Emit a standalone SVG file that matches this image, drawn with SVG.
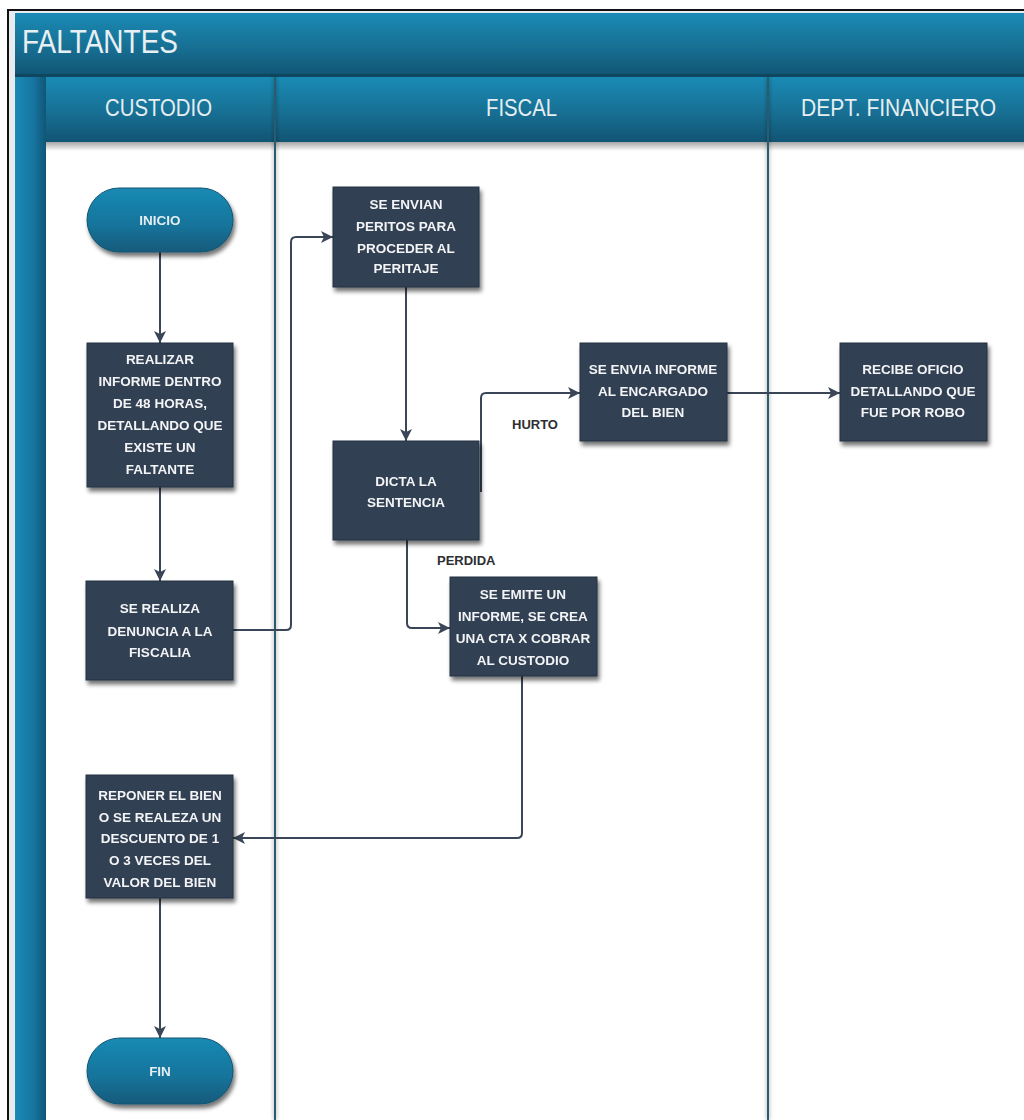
<svg xmlns="http://www.w3.org/2000/svg" width="1024" height="1120" viewBox="0 0 1024 1120">
  <defs>
    <linearGradient id="gBarV" x1="0" y1="0" x2="0" y2="1">
      <stop offset="0" stop-color="#1a8bb5"/>
      <stop offset="0.55" stop-color="#176f93"/>
      <stop offset="1" stop-color="#115473"/>
    </linearGradient>
    <linearGradient id="gBarH" x1="0" y1="0" x2="1" y2="0">
      <stop offset="0" stop-color="#1a8bb5"/>
      <stop offset="0.6" stop-color="#1675a0"/>
      <stop offset="1" stop-color="#115576"/>
    </linearGradient>
    <linearGradient id="gPill" x1="0" y1="0" x2="0" y2="1">
      <stop offset="0" stop-color="#1a8ab4"/>
      <stop offset="0.6" stop-color="#16739a"/>
      <stop offset="1" stop-color="#125a7b"/>
    </linearGradient>
    <filter id="shadow" x="-20%" y="-20%" width="150%" height="150%">
      <feGaussianBlur in="SourceAlpha" stdDeviation="2.2"/>
      <feOffset dx="2" dy="4" result="b"/>
      <feComponentTransfer><feFuncA type="linear" slope="0.55"/></feComponentTransfer>
      <feMerge><feMergeNode/><feMergeNode in="SourceGraphic"/></feMerge>
    </filter>
    <filter id="lineShadow" x="-400%" y="-5%" width="900%" height="110%">
      <feGaussianBlur in="SourceAlpha" stdDeviation="2"/>
      <feComponentTransfer><feFuncA type="linear" slope="0.45"/></feComponentTransfer>
      <feMerge><feMergeNode/><feMergeNode in="SourceGraphic"/></feMerge>
    </filter>
    <linearGradient id="gHeadShade" x1="0" y1="0" x2="0" y2="1">
      <stop offset="0" stop-color="#000" stop-opacity="0.35"/>
      <stop offset="1" stop-color="#000" stop-opacity="0"/>
    </linearGradient>
    <marker id="arrow" markerUnits="userSpaceOnUse" markerWidth="13" markerHeight="12" refX="12" refY="6" orient="auto">
      <path d="M0,0 L12,6 L0,12 L3,6 z" fill="#3a4657"/>
    </marker>
    <style>
      .box { fill: #323f52; stroke: #273140; stroke-width: 1; }
      .pill { fill: url(#gPill); stroke: #125472; stroke-width: 1; }
      .ntext { font-family: "Liberation Sans", Arial, sans-serif; font-weight: bold; font-size: 13.5px; fill: #f2f4f6; text-anchor: middle; }
      .ptext { font-family: "Liberation Sans", Arial, sans-serif; font-weight: bold; font-size: 13.5px; fill: #e3edf2; text-anchor: middle; }
      .lbl { font-family: "Liberation Sans", Arial, sans-serif; font-weight: bold; font-size: 13px; fill: #2d2f33; }
      .htext { font-family: "Liberation Sans", Arial, sans-serif; font-size: 24px; fill: #e6eef2; }
      .ttext { font-family: "Liberation Sans", Arial, sans-serif; font-size: 33px; fill: #e8f0f4; }
      .conn { fill: none; stroke: #3a4657; stroke-width: 2; marker-end: url(#arrow); }
      .lane { stroke: #2a5b70; stroke-width: 2; }
    </style>
  </defs>

  <!-- page background and outer frame -->
  <rect x="0" y="0" width="1024" height="1120" fill="#ffffff"/>
  <rect x="9" y="11" width="1015" height="1109" fill="#e9ecee"/>
  <path d="M8,1120 V10 H1024" fill="none" stroke="#111" stroke-width="2"/>

  <!-- pool title bar -->
  <g id="pool-title">
    <rect x="15" y="13" width="1009" height="63" fill="url(#gBarV)"/>
    <rect x="15" y="74" width="1009" height="3" fill="#0f4760"/>
    <text class="ttext" x="22" y="53" textLength="156" lengthAdjust="spacingAndGlyphs">FALTANTES</text>
  </g>

  <!-- left pool strip -->
  <rect x="15" y="77" width="31" height="1043" fill="url(#gBarH)"/>

  <!-- lane bodies -->
  <rect x="46" y="142" width="978" height="978" fill="#ffffff"/>
  <rect x="46" y="142" width="978" height="9" fill="url(#gHeadShade)"/>

  <!-- lane headers -->
  <g id="lane-custodio">
    <rect x="46" y="77" width="229" height="65" fill="url(#gBarV)"/>
    <text class="htext" x="105" y="116" textLength="107" lengthAdjust="spacingAndGlyphs">CUSTODIO</text>
  </g>
  <g id="lane-fiscal">
    <rect x="276" y="77" width="492" height="65" fill="url(#gBarV)"/>
    <text class="htext" x="486" y="116" textLength="71" lengthAdjust="spacingAndGlyphs">FISCAL</text>
  </g>
  <g id="lane-financiero">
    <rect x="769" y="77" width="255" height="65" fill="url(#gBarV)"/>
    <text class="htext" x="801" y="116" textLength="195" lengthAdjust="spacingAndGlyphs">DEPT. FINANCIERO</text>
  </g>

  <!-- lane dividers -->
  <g id="lane-dividers" filter="url(#lineShadow)">
    <line class="lane" x1="275" y1="77" x2="275" y2="1120"/>
    <line class="lane" x1="768" y1="77" x2="768" y2="1120"/>
  </g>

  <!-- connectors -->
  <g id="connectors">
    <path class="conn" d="M160,252 V343"/>
    <path class="conn" d="M160,487 V581"/>
    <path class="conn" d="M233,630 H286 Q291,630 291,625 V242 Q291,237 296,237 H333"/>
    <path class="conn" d="M406,287 V441"/>
    <path class="conn" d="M481,492 V398 Q481,393 486,393 H580"/>
    <path class="conn" d="M727,393 H840"/>
    <path class="conn" d="M407,540 V623 Q407,628 412,628 H450"/>
    <path class="conn" d="M522,676 V833 Q522,838 517,838 H233"/>
    <path class="conn" d="M160,898 V1038"/>
    <text class="lbl" x="512" y="429">HURTO</text>
    <text class="lbl" x="437" y="565">PERDIDA</text>
  </g>

  <!-- nodes -->
  <g id="inicio" filter="url(#shadow)">
    <rect class="pill" x="87" y="188" width="146" height="64" rx="32"/>
    <text class="ptext" x="160" y="225">INICIO</text>
  </g>

  <g id="realizar-informe" filter="url(#shadow)">
    <rect class="box" x="87" y="343" width="146" height="144"/>
    <text class="ntext" x="160" y="364">REALIZAR</text>
    <text class="ntext" x="160" y="386">INFORME DENTRO</text>
    <text class="ntext" x="160" y="408">DE 48 HORAS,</text>
    <text class="ntext" x="160" y="430">DETALLANDO QUE</text>
    <text class="ntext" x="160" y="452">EXISTE UN</text>
    <text class="ntext" x="160" y="474">FALTANTE</text>
  </g>

  <g id="denuncia" filter="url(#shadow)">
    <rect class="box" x="86" y="581" width="147" height="99"/>
    <text class="ntext" x="160" y="613">SE REALIZA</text>
    <text class="ntext" x="160" y="636">DENUNCIA A LA</text>
    <text class="ntext" x="160" y="657">FISCALIA</text>
  </g>

  <g id="reponer" filter="url(#shadow)">
    <rect class="box" x="86" y="775" width="147" height="123"/>
    <text class="ntext" x="160" y="800">REPONER EL BIEN</text>
    <text class="ntext" x="160" y="822">O SE REALEZA UN</text>
    <text class="ntext" x="160" y="843">DESCUENTO DE 1</text>
    <text class="ntext" x="160" y="865">O 3 VECES DEL</text>
    <text class="ntext" x="160" y="887">VALOR DEL BIEN</text>
  </g>

  <g id="fin" filter="url(#shadow)">
    <rect class="pill" x="87" y="1038" width="146" height="66" rx="33"/>
    <text class="ptext" x="160" y="1076">FIN</text>
  </g>

  <g id="peritos" filter="url(#shadow)">
    <rect class="box" x="333" y="187" width="146" height="100"/>
    <text class="ntext" x="406" y="209">SE ENVIAN</text>
    <text class="ntext" x="406" y="231">PERITOS PARA</text>
    <text class="ntext" x="406" y="253">PROCEDER AL</text>
    <text class="ntext" x="406" y="273">PERITAJE</text>
  </g>

  <g id="sentencia" filter="url(#shadow)">
    <rect class="box" x="333" y="441" width="146" height="99"/>
    <text class="ntext" x="406" y="486">DICTA LA</text>
    <text class="ntext" x="406" y="507">SENTENCIA</text>
  </g>

  <g id="informe-encargado" filter="url(#shadow)">
    <rect class="box" x="580" y="343" width="147" height="98"/>
    <text class="ntext" x="653" y="374">SE ENVIA INFORME</text>
    <text class="ntext" x="653" y="396">AL ENCARGADO</text>
    <text class="ntext" x="653" y="417">DEL BIEN</text>
  </g>

  <g id="cta-cobrar" filter="url(#shadow)">
    <rect class="box" x="450" y="577" width="147" height="99"/>
    <text class="ntext" x="523" y="599">SE EMITE UN</text>
    <text class="ntext" x="523" y="621">INFORME, SE CREA</text>
    <text class="ntext" x="523" y="643">UNA CTA X COBRAR</text>
    <text class="ntext" x="523" y="665">AL CUSTODIO</text>
  </g>

  <g id="recibe-oficio" filter="url(#shadow)">
    <rect class="box" x="840" y="343" width="147" height="98"/>
    <text class="ntext" x="913" y="374">RECIBE OFICIO</text>
    <text class="ntext" x="913" y="396">DETALLANDO QUE</text>
    <text class="ntext" x="913" y="417">FUE POR ROBO</text>
  </g>
</svg>
